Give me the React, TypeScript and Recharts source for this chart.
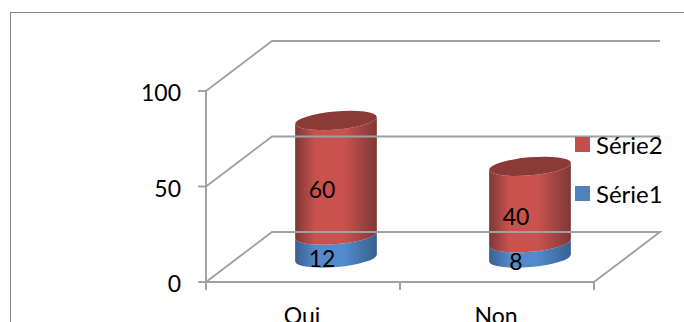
import React from "react";
import { Bar, BarChart, LabelList, Legend, ReferenceLine, XAxis, YAxis } from "recharts";

const categories = ["Oui", "Non"];
const serie1Values = [12, 8];
const serie2Values = [60, 40];
const yTicks = [0, 50, 100];

const rows = categories.map((name, i) => ({
  name,
  "Série1": serie1Values[i],
  "Série2": serie2Values[i],
}));

const FONT = "Lato, sans-serif";
const FONT_SIZE = 23;
const GRID = "#a0a0a0";
const GRID_WIDTH = 1.9;

// Oblique projection of the floor: how far the back wall sits from the front edge.
const DEPTH_X = 66;
const DEPTH_Y = 50;
// Cylinders stand halfway along the floor depth.
const BAR_DX = DEPTH_X / 2;
const BAR_DY = -24;
const TILT = -5;
const ELLIPSE_RY = 9;
const HALF_BAND = 97;

const rad = (TILT * Math.PI) / 180;

function Cylinder(props: any) {
  const { x, y, width, height, gradient, capColor, showCap } = props;
  const cx = x + width / 2 + BAR_DX;
  const rx = width / 2;
  const ex = rx * Math.cos(rad);
  const ey = rx * Math.sin(rad);
  const top = y + BAR_DY;
  const bottom = y + height + BAR_DY;
  const arc = `A ${rx} ${ELLIPSE_RY} ${TILT} 0 0`;
  const body =
    `M ${cx - ex} ${top - ey} L ${cx - ex} ${bottom - ey} ` +
    `${arc} ${cx + ex} ${bottom + ey} L ${cx + ex} ${top + ey} ` +
    `${arc.replace("0 0", "0 1")} ${cx - ex} ${top - ey} Z`;
  return (
    <g>
      <path d={body} fill={`url(#${gradient})`} />
      {showCap ? (
        <ellipse
          cx={cx}
          cy={top}
          rx={rx}
          ry={ELLIPSE_RY}
          fill={capColor}
          transform={`rotate(${TILT} ${cx} ${top})`}
        />
      ) : null}
    </g>
  );
}

function WallLine(props: any) {
  const { x1, y1, x2, value } = props;
  const isFloor = value === 0;
  const points = [
    `${x1},${y1}`,
    `${x1 + DEPTH_X},${y1 - DEPTH_Y}`,
    `${x2 + DEPTH_X},${y1 - DEPTH_Y}`,
  ];
  if (isFloor) points.push(`${x2},${y1}`);
  return <polyline points={points.join(" ")} fill="none" stroke={GRID} strokeWidth={GRID_WIDTH} />;
}

function CategoryTick(props: any) {
  const { x, y, payload } = props;
  return (
    <g>
      <line x1={x - HALF_BAND} x2={x - HALF_BAND} y1={y - 8} y2={y} stroke={GRID} strokeWidth={GRID_WIDTH} />
      <line x1={x + HALF_BAND} x2={x + HALF_BAND} y1={y - 8} y2={y} stroke={GRID} strokeWidth={GRID_WIDTH} />
      <text x={x - 1} y={324} textAnchor="middle" fontFamily={FONT} fontSize={FONT_SIZE} fill="#000">
        {payload.value}
      </text>
    </g>
  );
}

function ValueLabel(props: any) {
  const { x, y, width, height, value } = props;
  return (
    <text
      x={x + width / 2 + BAR_DX - 14}
      y={y + height / 2 + BAR_DY + 11}
      textAnchor="middle"
      dominantBaseline="central"
      fontFamily={FONT}
      fontSize={FONT_SIZE}
      fill="#000"
    >
      {value}
    </text>
  );
}

function SeriesLegend({ payload }: any) {
  const items = [...(payload ?? [])].reverse();
  return (
    <div style={{ fontFamily: FONT, fontSize: 24, color: "#000" }}>
      {items.map((item: any) => (
        <div key={item.value} style={{ display: "flex", alignItems: "center", height: 49 }}>
          <span style={{ width: 15, height: 15, background: item.color, marginRight: 6, flex: "none" }} />
          <span>{item.value}</span>
        </div>
      ))}
    </div>
  );
}

function Gradient({ id, edge, mid }: { id: string; edge: string; mid: string }) {
  return (
    <linearGradient id={id} x1="0" x2="1" y1="0" y2="0">
      <stop offset="0%" stopColor={edge} />
      <stop offset="25%" stopColor={mid} />
      <stop offset="60%" stopColor={mid} />
      <stop offset="100%" stopColor={edge} />
    </linearGradient>
  );
}

export default function App() {
  return (
    <div style={{ position: "absolute", left: 0, top: 0, width: 684, height: 322, overflow: "hidden", background: "#fff" }}>
      <div
        style={{
          position: "absolute",
          left: 10,
          top: 12,
          width: 800,
          height: 500,
          border: "1px solid #868686",
        }}
      />
      <BarChart
        width={684}
        height={322}
        data={rows}
        margin={{ top: 91, right: 90, bottom: 0, left: 0 }}
        barSize={82}
        style={{ position: "absolute", left: 0, top: 0 }}
      >
        <defs>
          <Gradient id="redBody" edge="#7e3836" mid="#c9524f" />
          <Gradient id="blueBody" edge="#38608f" mid="#528acb" />
        </defs>
        <XAxis
          dataKey="name"
          height={40}
          stroke={GRID}
          strokeWidth={GRID_WIDTH}
          tickLine={false}
          tick={<CategoryTick />}
          interval={0}
        />
        <YAxis
          width={206}
          domain={[0, 100]}
          ticks={yTicks}
          stroke={GRID}
          strokeWidth={GRID_WIDTH}
          tickSize={8}
          tickMargin={17}
          tick={{ fontFamily: FONT, fontSize: FONT_SIZE, fill: "#000", dy: 2 }}
        />
        {yTicks.map((v) => (
          <ReferenceLine key={v} y={v} ifOverflow="visible" stroke="none" shape={(p: any) => <WallLine {...p} value={v} />} />
        ))}
        {/* Zero-height wrapper: the legend floats over the plot without reserving room. */}
        <Legend
          layout="vertical"
          content={<SeriesLegend />}
          wrapperStyle={{ left: 575, top: 120, width: 100, height: 0, bottom: "auto" }}
        />
        <Bar
          dataKey="Série1"
          stackId="s"
          fill="#4f81bd"
          isAnimationActive={false}
          shape={(p: any) => <Cylinder {...p} gradient="blueBody" />}
        >
          <LabelList dataKey="Série1" content={<ValueLabel />} />
        </Bar>
        <Bar
          dataKey="Série2"
          stackId="s"
          fill="#c0504d"
          isAnimationActive={false}
          shape={(p: any) => <Cylinder {...p} gradient="redBody" capColor="#8c3a38" showCap />}
        >
          <LabelList dataKey="Série2" content={<ValueLabel />} />
        </Bar>
      </BarChart>
    </div>
  );
}
